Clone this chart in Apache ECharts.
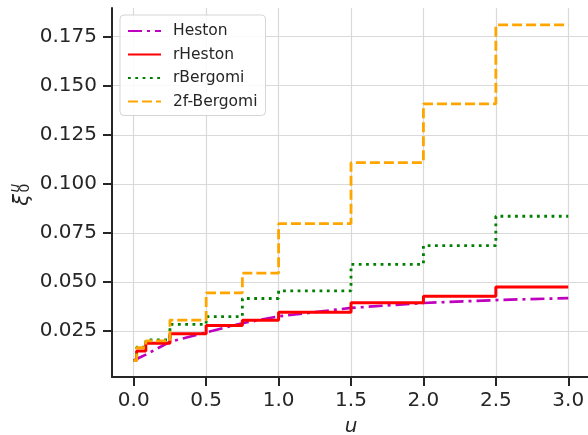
<!DOCTYPE html>
<html><head><meta charset="utf-8">
<script src="https://cdn.jsdelivr.net/npm/echarts@6/dist/echarts.min.js"></script>
<style>html,body{margin:0;padding:0;background:#fff}#c{width:588px;height:435px}</style>
</head><body><div id="c"></div>
<script>
// maturities u (step breakpoints)
const u = [0, 0.02, 0.0833, 0.25, 0.5, 0.75, 1.0, 1.5, 2.0, 2.5, 3.0];
const heston    = [0.0100, 0.0108, 0.0130, 0.0195, 0.0243, 0.0290, 0.0325, 0.0368, 0.0393, 0.0408, 0.0418];
const rHeston   = [0.0100, 0.0148, 0.0188, 0.0236, 0.0278, 0.0305, 0.0346, 0.0394, 0.0428, 0.0475, 0.0475];
const rBergomi  = [0.0100, 0.0168, 0.0205, 0.0284, 0.0324, 0.0416, 0.0455, 0.0590, 0.0685, 0.0835, 0.0835];
const bergomi2f = [0.0100, 0.0165, 0.0200, 0.0306, 0.0445, 0.0545, 0.0797, 0.1108, 0.1408, 0.1810, 0.1810];
const xTicks = [0, 0.5, 1.0, 1.5, 2.0, 2.5, 3.0];
const yTicks = [0.025, 0.05, 0.075, 0.1, 0.125, 0.15, 0.175];
const names = ['Heston', 'rHeston', 'rBergomi', '2f-Bergomi'];

const pair = (ys) => u.map((x, i) => [x, ys[i]]);
const dark = '#262626';
const chart = echarts.init(document.getElementById('c'), null, {renderer: 'canvas'});
chart.setOption({
  animation: false,
  backgroundColor: '#fff',
  textStyle: {fontFamily: 'DejaVu Sans'},
  grid: {left: 112, right: -2, top: 8, bottom: 58, containLabel: false, outerBoundsMode: 'none'},
  legend: {
    left: 120, top: 15, orient: 'vertical',
    padding: [8, 8, 6, 7], itemGap: 7.5, itemWidth: 33, itemHeight: 14,
    borderColor: '#d5d5d5', borderWidth: 1, borderRadius: 4,
    backgroundColor: 'rgba(255,255,255,0.85)',
    itemStyle: {opacity: 0},
    textStyle: {fontSize: 15.5, color: dark, fontFamily: 'DejaVu Sans', padding: [0, 0, 0, 7]},
    data: names
  },
  xAxis: {
    type: 'value', min: -0.15, max: 3.15,
    name: 'u', nameLocation: 'middle', nameGap: 40,
    nameTextStyle: {fontSize: 20, fontStyle: 'italic', color: dark, fontFamily: 'DejaVu Sans'},
    axisLine: {show: true, onZero: false, lineStyle: {color: dark, width: 2}},
    axisTick: {show: true, length: 9, lineStyle: {color: dark, width: 2}, customValues: xTicks},
    axisLabel: {fontSize: 20, color: dark, margin: 14, customValues: xTicks, formatter: v => v.toFixed(1)},
    splitLine: {show: true, lineStyle: {color: '#d9d9d9', width: 1.2}}
  },
  yAxis: {
    type: 'value', min: 0.0016, max: 0.1896,
    axisLine: {show: true, onZero: false, lineStyle: {color: dark, width: 2}},
    axisTick: {show: true, length: 9, lineStyle: {color: dark, width: 2}, customValues: yTicks},
    axisLabel: {fontSize: 20, color: dark, margin: 15, customValues: yTicks, formatter: v => v.toFixed(3)},
    splitLine: {show: true, lineStyle: {color: '#d9d9d9', width: 1.2}}
  },
  graphic: [{
    type: 'group', x: 23, y: 200, rotation: Math.PI / 2,
    children: [
      {type: 'text', x: 0, y: 0, style: {text: 'ξ', fontSize: 21, fontStyle: 'italic', fontFamily: 'DejaVu Sans', fill: dark, align: 'center', verticalAlign: 'middle'}},
      {type: 'text', x: 12, y: -8, style: {text: 'u', fontSize: 14, fontStyle: 'italic', fontFamily: 'DejaVu Sans', fill: dark, align: 'center', verticalAlign: 'middle'}},
      {type: 'text', x: 12, y: 2, style: {text: '0', fontSize: 14, fontFamily: 'DejaVu Sans', fill: dark, align: 'center', verticalAlign: 'middle'}}
    ]
  }],
  series: [
    {name: names[0], type: 'line', data: pair(heston), showSymbol: false, symbol: 'none', smooth: false,
     lineStyle: {color: '#bf00bf', width: 2.7, type: [14, 5, 3, 5]}, itemStyle: {color: '#bf00bf'}},
    {name: names[1], type: 'line', data: pair(rHeston), step: 'end', showSymbol: false, symbol: 'none',
     lineStyle: {color: '#ff0000', width: 3, type: 'solid'}, itemStyle: {color: '#ff0000'}},
    {name: names[2], type: 'line', data: pair(rBergomi), step: 'end', showSymbol: false, symbol: 'none',
     lineStyle: {color: '#008000', width: 2.8, type: [2.8, 4.5]}, itemStyle: {color: '#008000'}},
    {name: names[3], type: 'line', data: pair(bergomi2f), step: 'end', showSymbol: false, symbol: 'none',
     lineStyle: {color: '#ffa500', width: 2.8, type: [10, 4]}, itemStyle: {color: '#ffa500'}}
  ]
});
</script></body></html>
